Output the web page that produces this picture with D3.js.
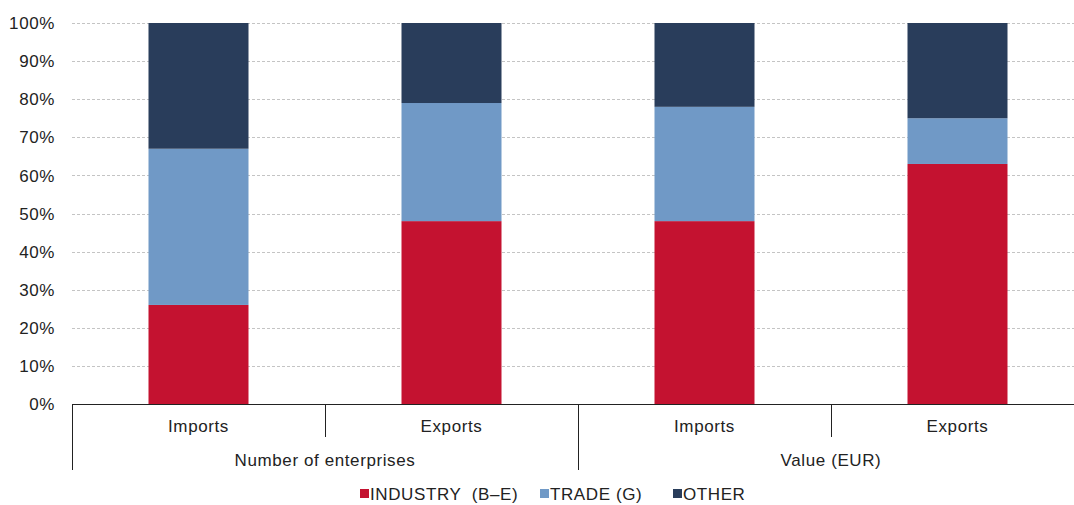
<!DOCTYPE html>
<html>
<head>
<meta charset="utf-8">
<script src="https://cdn.jsdelivr.net/npm/d3@7"></script>
<style>
  body { margin: 0; background: #fff; }
  text { font-family: "Liberation Sans", Arial, sans-serif; fill: #222; font-size: 17px; letter-spacing: 0.6px; }
</style>
</head>
<body>
<div id="chart"></div>
<script>
// Chart data
var groups = ["Number of enterprises", "Value (EUR)"];
var flows = ["Imports", "Exports"];
var categories = ["Number of enterprises|Imports", "Number of enterprises|Exports",
                  "Value (EUR)|Imports", "Value (EUR)|Exports"];
var series = ["INDUSTRY  (B\u2013E)", "TRADE (G)", "OTHER"];
var industry = [26, 48, 48, 63];
var trade = [41, 31, 30, 12];
var other = [33, 21, 22, 25];
var yTicks = [0, 10, 20, 30, 40, 50, 60, 70, 80, 90, 100];
var colors = ["#c41230", "#7099c6", "#293d5b"];

var W = 1074, H = 505;
var plotLeft = 72, plotRight = 1084, plotTop = 23, plotBottom = 404;

var svg = d3.select("#chart").append("svg")
    .attr("width", W)
    .attr("height", H);

var x = d3.scaleBand().domain(categories).range([plotLeft, plotRight]).padding(0);
var y = d3.scaleLinear().domain([0, 100]).range([plotBottom, plotTop]);
var barW = x.bandwidth() * 100 / 253;

// gridlines
svg.append("g")
    .selectAll("line")
    .data(yTicks.filter(function (d) { return d > 0; }))
    .join("line")
    .attr("x1", plotLeft)
    .attr("x2", W)
    .attr("y1", function (d) { return Math.round(y(d)) + 0.5; })
    .attr("y2", function (d) { return Math.round(y(d)) + 0.5; })
    .attr("stroke", "#c4c4c4")
    .attr("stroke-width", 1)
    .attr("stroke-dasharray", "3,2");

// y labels
svg.append("g")
    .selectAll("text")
    .data(yTicks)
    .join("text")
    .attr("x", 55)
    .attr("y", function (d) { return y(d); })
    .attr("dy", "0.36em")
    .attr("text-anchor", "end")
    .text(function (d) { return d + "%"; });

// stacked bars
var rows = categories.map(function (c, i) {
    return { cat: c, industry: industry[i], trade: trade[i], other: other[i] };
});
var stack = d3.stack().keys(["industry", "trade", "other"])(rows);

svg.append("g")
    .selectAll("g")
    .data(stack)
    .join("g")
    .attr("fill", function (d, i) { return colors[i]; })
    .selectAll("rect")
    .data(function (d) { return d; })
    .join("rect")
    .attr("x", function (d) { return x(d.data.cat) + (x.bandwidth() - barW) / 2; })
    .attr("y", function (d) { return y(d[1]); })
    .attr("width", barW)
    .attr("height", function (d) { return y(d[0]) - y(d[1]); });

// x axis line
svg.append("line")
    .attr("x1", plotLeft).attr("x2", W)
    .attr("y1", plotBottom + 0.5).attr("y2", plotBottom + 0.5)
    .attr("stroke", "#222").attr("stroke-width", 1);

// category separators
var seps = d3.range(categories.length + 1).map(function (i) {
    return { x: plotLeft + i * x.bandwidth(), long: i % 2 === 0 };
});
svg.append("g")
    .selectAll("line")
    .data(seps)
    .join("line")
    .attr("x1", function (d) { return Math.round(d.x) + 0.5; })
    .attr("x2", function (d) { return Math.round(d.x) + 0.5; })
    .attr("y1", plotBottom)
    .attr("y2", function (d) { return d.long ? 470 : 437; })
    .attr("stroke", "#222").attr("stroke-width", 1);

// flow labels
svg.append("g")
    .selectAll("text")
    .data(categories)
    .join("text")
    .attr("x", function (d) { return x(d) + x.bandwidth() / 2; })
    .attr("y", 432)
    .attr("text-anchor", "middle")
    .text(function (d) { return d.split("|")[1]; });

// group labels
svg.append("g")
    .selectAll("text")
    .data(groups)
    .join("text")
    .attr("x", function (d, i) { return plotLeft + (i * 2 + 1) * x.bandwidth(); })
    .attr("y", 466)
    .attr("text-anchor", "middle")
    .text(function (d) { return d; });

// legend
var legendX = [360, 540, 673];
var legend = svg.append("g")
    .selectAll("g")
    .data(series)
    .join("g")
    .attr("transform", function (d, i) { return "translate(" + legendX[i] + ",494)"; });
legend.append("rect")
    .attr("x", 0).attr("y", -5)
    .attr("width", 9).attr("height", 9)
    .attr("fill", function (d, i) { return colors[i]; });
legend.append("text")
    .attr("x", 10)
    .attr("y", 0)
    .attr("dy", "0.36em")
    .style("white-space", "pre")
    .text(function (d) { return d; });
</script>
</body>
</html>
